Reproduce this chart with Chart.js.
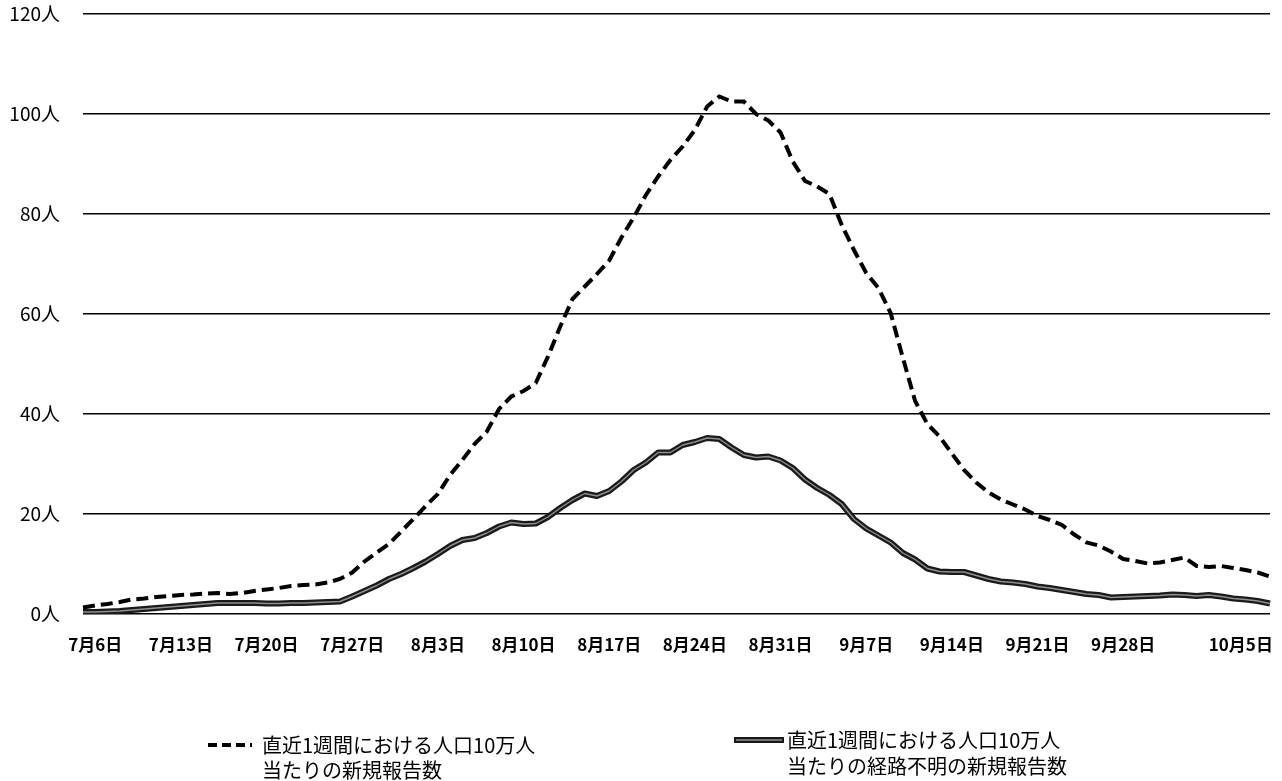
<!DOCTYPE html>
<html lang="ja">
<head>
<meta charset="utf-8">
<title>直近1週間における人口10万人当たりの新規報告数</title>
<script src="https://cdn.jsdelivr.net/npm/chart.js@4/dist/chart.umd.min.js"></script>
<style>
  html, body { margin: 0; padding: 0; background: #fff; }
  #wrap { width: 1282px; height: 781px; }
</style>
</head>
<body>
<div id="wrap"><canvas id="chart" width="1282" height="781"></canvas></div>
<script>
// Daily categories, 7月5日 – 10月10日
const dateCategories = [
  '7月5日','7月6日','7月7日','7月8日','7月9日','7月10日','7月11日','7月12日','7月13日','7月14日',
  '7月15日','7月16日','7月17日','7月18日','7月19日','7月20日','7月21日','7月22日','7月23日','7月24日',
  '7月25日','7月26日','7月27日','7月28日','7月29日','7月30日','7月31日',
  '8月1日','8月2日','8月3日','8月4日','8月5日','8月6日','8月7日','8月8日','8月9日','8月10日',
  '8月11日','8月12日','8月13日','8月14日','8月15日','8月16日','8月17日','8月18日','8月19日','8月20日',
  '8月21日','8月22日','8月23日','8月24日','8月25日','8月26日','8月27日','8月28日','8月29日','8月30日','8月31日',
  '9月1日','9月2日','9月3日','9月4日','9月5日','9月6日','9月7日','9月8日','9月9日','9月10日',
  '9月11日','9月12日','9月13日','9月14日','9月15日','9月16日','9月17日','9月18日','9月19日','9月20日',
  '9月21日','9月22日','9月23日','9月24日','9月25日','9月26日','9月27日','9月28日','9月29日','9月30日',
  '10月1日','10月2日','10月3日','10月4日','10月5日','10月6日','10月7日','10月8日','10月9日','10月10日'
];

// Weekly labels shown under the axis
const tickLabels = ['7月6日','7月13日','7月20日','7月27日','8月3日','8月10日','8月17日',
                    '8月24日','8月31日','9月7日','9月14日','9月21日','9月28日','10月5日'];

// 直近1週間における人口10万人当たりの新規報告数
const newCases = [
  1.3, 1.7, 2.0, 2.4, 2.9, 3.1, 3.4, 3.6, 3.8, 3.9,
  4.1, 4.2, 4.0, 4.2, 4.6, 4.9, 5.2, 5.6, 5.8, 5.9,
  6.3, 7.0, 8.3, 10.5, 12.3, 14.0, 16.5, 19.0, 21.6, 24.0,
  27.8, 30.8, 34.0, 36.5, 41.0, 43.5, 44.6, 46.2, 51.5, 57.5,
  63.0, 65.5, 68.0, 70.7, 75.3, 79.3, 83.8, 87.5, 90.8, 93.5,
  96.8, 101.5, 103.5, 102.5, 102.5, 100.0, 98.7, 96.3, 90.5, 86.6,
  85.5, 84.0, 77.8, 72.8, 68.2, 65.2, 60.2, 51.2, 42.6, 38.0,
  35.5, 32.1, 28.8, 26.3, 24.3, 22.9, 21.9, 20.9, 19.6, 18.8,
  17.8, 15.9, 14.3, 13.7, 12.5, 11.0, 10.6, 10.1, 10.3, 10.8,
  11.3, 9.6, 9.4, 9.6, 9.2, 8.8, 8.3, 7.5
];

// 直近1週間における人口10万人当たりの経路不明の新規報告数
const unknownRoute = [
  0.4, 0.4, 0.5, 0.6, 0.8, 1.0, 1.2, 1.4, 1.6, 1.8,
  2.0, 2.2, 2.2, 2.2, 2.2, 2.1, 2.1, 2.2, 2.2, 2.3,
  2.4, 2.5, 3.5, 4.6, 5.7, 7.0, 8.0, 9.2, 10.5, 12.0,
  13.6, 14.8, 15.2, 16.2, 17.5, 18.3, 18.0, 18.1, 19.4, 21.2,
  22.8, 24.1, 23.6, 24.6, 26.5, 28.8, 30.3, 32.3, 32.3, 33.8,
  34.4, 35.2, 35.0, 33.3, 31.8, 31.3, 31.5, 30.7, 29.2, 26.9,
  25.2, 23.8, 22.0, 19.0, 17.1, 15.7, 14.3, 12.2, 10.9, 9.1,
  8.5, 8.4, 8.4, 7.7, 7.0, 6.5, 6.3, 6.0, 5.5, 5.2,
  4.8, 4.4, 4.0, 3.8, 3.3, 3.4, 3.5, 3.6, 3.7, 3.9,
  3.8, 3.6, 3.8, 3.5, 3.1, 2.9, 2.6, 2.1
];

// Legend captions, one entry per line
const newCasesName = ['直近1週間における人口10万人', '当たりの新規報告数'];
const unknownRouteName = ['直近1週間における人口10万人', '当たりの経路不明の新規報告数'];

// Y axis: 0–120 in steps of 20
const yMin = 0, yMax = 120, yStep = 20, yUnit = '人';

const JP_FONT = '"Noto Sans CJK JP", "Noto Sans", sans-serif';
const DASH = [12, 6];
const CORE = '#8f8f8f';

// Draws the two-tone core of the thick line, the weekly date labels and the legend
const decorations = {
  id: 'decorations',
  afterDatasetsDraw(chart) {
    const ctx = chart.ctx;
    const meta = chart.getDatasetMeta(1);
    ctx.save();
    ctx.beginPath();
    meta.data.forEach((pt, i) => { if (i === 0) ctx.moveTo(pt.x, pt.y); else ctx.lineTo(pt.x, pt.y); });
    ctx.strokeStyle = CORE;
    ctx.lineWidth = 1.4;
    ctx.lineJoin = 'round';
    ctx.stroke();
    ctx.restore();
  },
  afterDraw(chart) {
    const ctx = chart.ctx;
    const xs = chart.scales.x;
    ctx.save();
    ctx.fillStyle = '#000';
    ctx.textBaseline = 'middle';
    ctx.font = 'bold 17px ' + JP_FONT;
    tickLabels.forEach((lab, k) => {
      const idx = dateCategories.indexOf(lab);
      const px = xs.getPixelForValue(idx);
      ctx.textAlign = (k === tickLabels.length - 1) ? 'left' : 'center';
      ctx.fillText(lab, px, 645);
    });

    // legend: dashed series
    ctx.strokeStyle = '#000';
    ctx.lineWidth = 4;
    ctx.setLineDash([9, 5]);
    ctx.beginPath();
    ctx.moveTo(208, 745);
    ctx.lineTo(252, 745);
    ctx.stroke();
    ctx.setLineDash([]);

    // legend: thick series
    ctx.strokeStyle = '#1a1a1a';
    ctx.lineWidth = 6;
    ctx.beginPath();
    ctx.moveTo(734, 740);
    ctx.lineTo(784, 740);
    ctx.stroke();
    ctx.strokeStyle = CORE;
    ctx.lineWidth = 1.4;
    ctx.beginPath();
    ctx.moveTo(736, 740);
    ctx.lineTo(782, 740);
    ctx.stroke();

    ctx.fillStyle = '#000';
    ctx.textAlign = 'left';
    ctx.font = '20px ' + JP_FONT;
    newCasesName.forEach((line, i) => ctx.fillText(line, 262, 745 + i * 25));
    unknownRouteName.forEach((line, i) => ctx.fillText(line, 787, 740 + i * 26));
    ctx.restore();
  }
};

new Chart(document.getElementById('chart'), {
  type: 'line',
  data: {
    labels: dateCategories,
    datasets: [
      {
        label: newCasesName.join(''),
        data: newCases,
        borderColor: '#000',
        borderWidth: 4,
        borderDash: DASH,
        borderCapStyle: 'butt',
        pointRadius: 0,
        tension: 0,
        fill: false
      },
      {
        label: unknownRouteName.join(''),
        data: unknownRoute,
        borderColor: '#1a1a1a',
        borderWidth: 6,
        borderJoinStyle: 'round',
        pointRadius: 0,
        tension: 0,
        fill: false
      }
    ]
  },
  options: {
    responsive: false,
    devicePixelRatio: 1,
    animation: false,
    layout: { padding: { top: 14, right: 12, bottom: 167, left: 0 } },
    plugins: {
      legend: { display: false },
      tooltip: { enabled: false }
    },
    scales: {
      x: {
        type: 'category',
        display: false,
        offset: false
      },
      y: {
        min: yMin,
        max: yMax,
        border: { display: false },
        grid: { color: '#000', lineWidth: 1.5, drawTicks: false },
        ticks: {
          stepSize: yStep,
          padding: 23,
          color: '#000',
          font: { family: JP_FONT, size: 19 },
          callback: (v) => v + yUnit
        },
        afterFit(scale) {
          scale.width = 83;
          scale.paddingTop = 0;
          scale.paddingBottom = 0;
        }
      }
    }
  },
  plugins: [decorations]
});
</script>
</body>
</html>
